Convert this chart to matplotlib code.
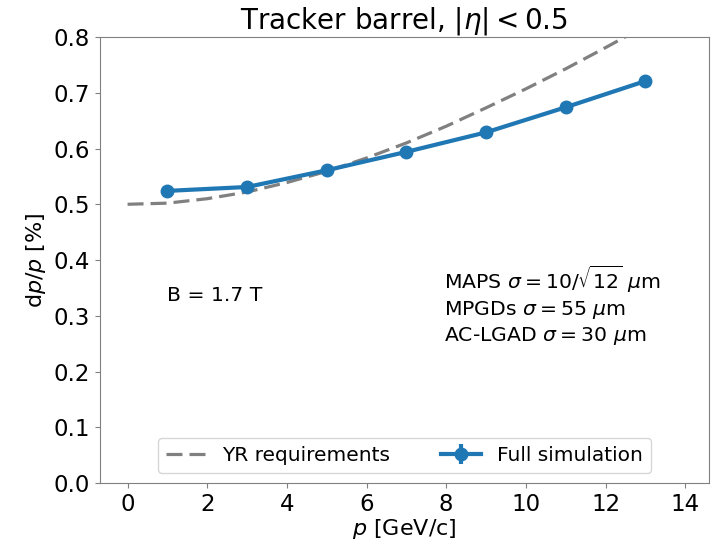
import matplotlib
matplotlib.use('agg')
import matplotlib.pyplot as plt

# YR requirement curve
yr_p = [0, 1, 2, 3, 4, 5, 6, 7, 8, 9, 10, 11, 12, 13, 14]
yr_res = [0.500, 0.502, 0.510, 0.522, 0.539, 0.559, 0.583, 0.610,
          0.640, 0.673, 0.707, 0.743, 0.781, 0.820, 0.860]

# full simulation points
sim_p = [1, 3, 5, 7, 9, 11, 13]
sim_res = [0.524, 0.531, 0.561, 0.594, 0.629, 0.674, 0.721]
sim_err = [0.003, 0.003, 0.003, 0.003, 0.003, 0.003, 0.003]

fig = plt.figure(figsize=(7.12, 5.44), dpi=100)
ax = fig.add_axes([0.140, 0.112, 0.856, 0.820])

ax.plot(yr_p, yr_res, '--', color='gray', linewidth=2.3, dashes=(5, 2.2),
        label='YR requirements')
ax.errorbar(sim_p, sim_res, yerr=sim_err, color='#1f77b4', marker='o',
            markersize=9, linewidth=3, label='Full simulation')

ax.set_xlim(-0.7, 14.6)
ax.set_ylim(0.0, 0.8)
ax.set_xticks(range(0, 15, 2))

for s in ax.spines.values():
    s.set_color('gray')
ax.tick_params(colors='gray', labelcolor='black', labelsize=16.5)

ax.set_title(r'Tracker barrel, $|\eta| < 0.5$', fontsize=20, pad=5)
ax.set_xlabel(r'$p$ [GeV/c]', fontsize=16, labelpad=1)
ax.set_ylabel(r'd$p$/$p$ [%]', fontsize=16)

ax.text(1.0, 0.337, 'B = 1.7 T', fontsize=14.7, va='center')
ax.text(7.95, 0.318,
        'MAPS $\\sigma = 10/\\sqrt{12}$ $\\mu$m\n'
        'MPGDs $\\sigma = 55$ $\\mu$m\n'
        'AC-LGAD $\\sigma = 30$ $\\mu$m',
        fontsize=14.7, va='center', linespacing=1.25)

ax.legend(loc='lower center', ncol=2, fontsize=14.5, columnspacing=2.5)

plt.savefig('out.png')
plt.close()
